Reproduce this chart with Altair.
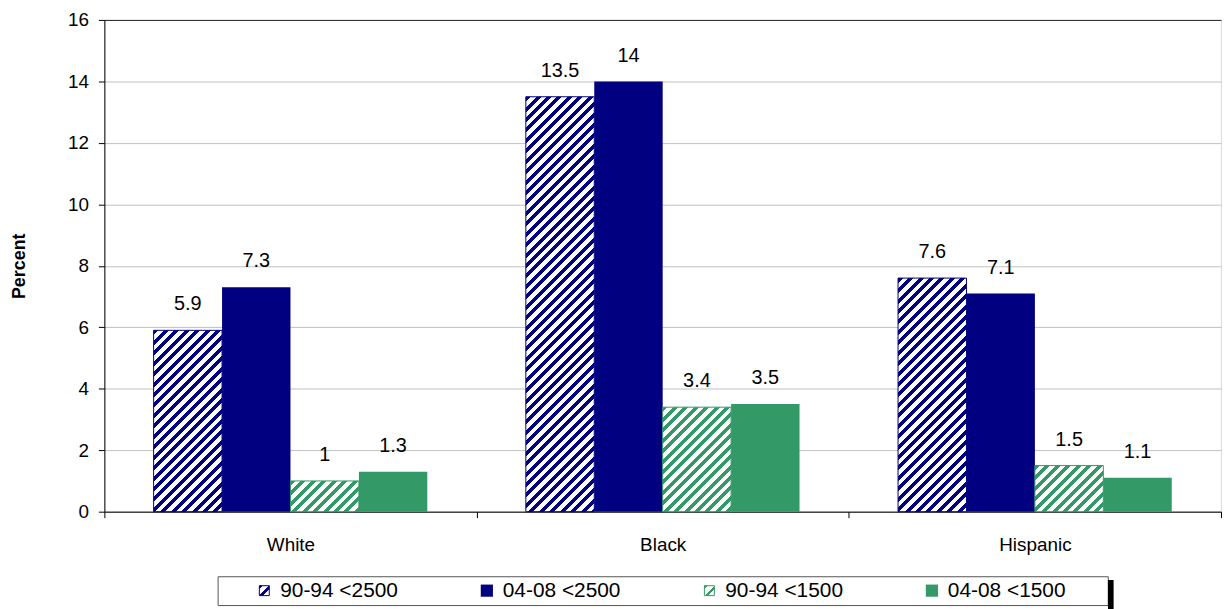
import altair as alt
import pandas as pd

# ---- data ----
groups = ["White", "Black", "Hispanic"]
series = ["90-94 <2500", "04-08 <2500", "90-94 <1500", "04-08 <1500"]
v_9094_2500 = [5.9, 13.5, 7.6]
v_0408_2500 = [7.3, 14, 7.1]
v_9094_1500 = [1, 3.4, 1.5]
v_0408_1500 = [1.3, 3.5, 1.1]
y_ticks = [0, 2, 4, 6, 8, 10, 12, 14, 16]

series_values = [v_9094_2500, v_0408_2500, v_9094_1500, v_0408_1500]
series_colors = ["#000080", "#000080", "#339966", "#339966"]
series_hatched = [True, False, True, False]

rows = []
for s, vals in zip(series, series_values):
    for g, v in zip(groups, vals):
        rows.append({"group": g, "series": s, "value": v,
                     "label": ("%g" % v)})
df = pd.DataFrame(rows)

# ---- layout constants ----
W, H = 1124, 495
Y_MAX = 16
PAD_OUTER = 0.72
FONT = "Liberation Sans"

bar_w = (W / len(groups)) / (len(series) + 2 * PAD_OUTER)


def hatch(color, w, h, period=10.0, frac=0.45):
    s = w + h
    x2 = s * w / (w * w + h * h)
    y2 = s * h / (w * w + h * h)
    n = s / period
    stops = []
    k = 0
    while k < n:
        a = k / n
        b = min((k + frac) / n, 1.0)
        e = min((k + 1) / n, 1.0)
        stops += [
            {"offset": a, "color": color},
            {"offset": b, "color": color},
            {"offset": b, "color": "white"},
            {"offset": e, "color": "white"},
        ]
        k += 1
    return {"gradient": "linear", "x1": 0, "y1": 0, "x2": x2, "y2": y2,
            "stops": stops}


x_enc = alt.X("group:N", sort=groups,
              scale=alt.Scale(paddingInner=0, paddingOuter=0),
              axis=alt.Axis(title=None, labelFontSize=19, labelColor="black",
                            labelAngle=0, tickBand="extent", tickColor="black",
                            tickSize=6, domainColor="black", labelPadding=18,
                            grid=False, labelFont=FONT))
xo_enc = alt.XOffset("series:N", sort=series,
                     scale=alt.Scale(domain=series, paddingInner=0,
                                     paddingOuter=PAD_OUTER))
y_enc = alt.Y("value:Q", scale=alt.Scale(domain=[0, Y_MAX], nice=False),
              axis=alt.Axis(values=y_ticks, title="Percent", titleFontSize=18,
                            titleFontWeight="bold", titleColor="black",
                            titlePadding=39, titleFont=FONT,
                            labelFontSize=19, labelColor="black", labelFont=FONT,
                            tickSize=6, tickColor="black", labelPadding=10,
                            domainColor="black",
                            gridColor={"condition": {"test": "datum.value === 16",
                                                     "value": "#222222"},
                                       "value": "#bfbfbf"}))

base = alt.Chart(df)

solid = base.transform_filter(
    alt.FieldOneOfPredicate(field="series", oneOf=[s for s, h in zip(series, series_hatched) if not h])
).mark_bar().encode(
    x=x_enc, xOffset=xo_enc, y=y_enc,
    color=alt.Color("series:N", scale=alt.Scale(domain=series, range=series_colors),
                    legend=None),
)

layers = [solid]
for s, vals, col, h in zip(series, series_values, series_colors, series_hatched):
    if not h:
        continue
    for g, v in zip(groups, vals):
        bh = v * H / Y_MAX
        layers.append(
            base.transform_filter(
                (alt.datum.series == s) & (alt.datum.group == g)
            ).mark_bar(fill=hatch(col, bar_w, bh, period=10.5, frac=0.48),
                       stroke=col, strokeWidth=1)
            .encode(x=x_enc, xOffset=xo_enc, y=y_enc)
        )

labels = base.mark_text(font=FONT, fontSize=20, baseline="alphabetic", dy=-20,
                        color="black").encode(
    x=x_enc, xOffset=xo_enc, y=y_enc, text="label:N")
layers.append(labels)

main = alt.layer(*layers).properties(width=W, height=H)

# ---- legend panel ----
LW, LH = 896, 29
STEP = LW / len(series)
leg_df = pd.DataFrame({"series": series, "color": series_colors,
                       "hatched": series_hatched})
leg_base = alt.Chart(leg_df)
leg_x = alt.X("series:N", sort=series,
              scale=alt.Scale(paddingInner=0, paddingOuter=0), axis=None)

SQ_OFF = 47 - STEP / 2
TX_OFF = 63 - STEP / 2

leg_layers = []
for s, col, h in zip(series, series_colors, series_hatched):
    f = leg_base.transform_filter(alt.datum.series == s)
    if h:
        m = f.mark_square(size=100, fill=hatch(col, 10, 10, period=10, frac=0.35),
                          stroke=col, strokeWidth=1, opacity=1, xOffset=SQ_OFF)
    else:
        m = f.mark_square(size=150, color=col, filled=True, opacity=1,
                          xOffset=SQ_OFF)
    leg_layers.append(m.encode(x=leg_x))

leg_text = leg_base.mark_text(font=FONT, fontSize=21, align="left",
                              baseline="middle", dx=TX_OFF, color="black").encode(
    x=leg_x, text="series:N")
leg_layers.append(leg_text)

shadow = leg_base.mark_rule(color="black", strokeWidth=5).encode(
    x=alt.value(LW + 3), y=alt.value(4), y2=alt.value(LH + 4))
leg_layers.append(shadow)

legend = alt.layer(*leg_layers).properties(
    width=LW, height=LH,
    view=alt.ViewBackground(stroke="#555555", strokeWidth=1, fill="white"))

chart = alt.vconcat(main, legend, spacing=65, center=True, bounds="flush").properties(
    padding={"left": 2, "top": 0, "right": 0, "bottom": 0}
).configure_view(stroke=None).configure(font=FONT, background="white")

chart.save("out.html", embed_options={"renderer": "svg", "actions": False})
